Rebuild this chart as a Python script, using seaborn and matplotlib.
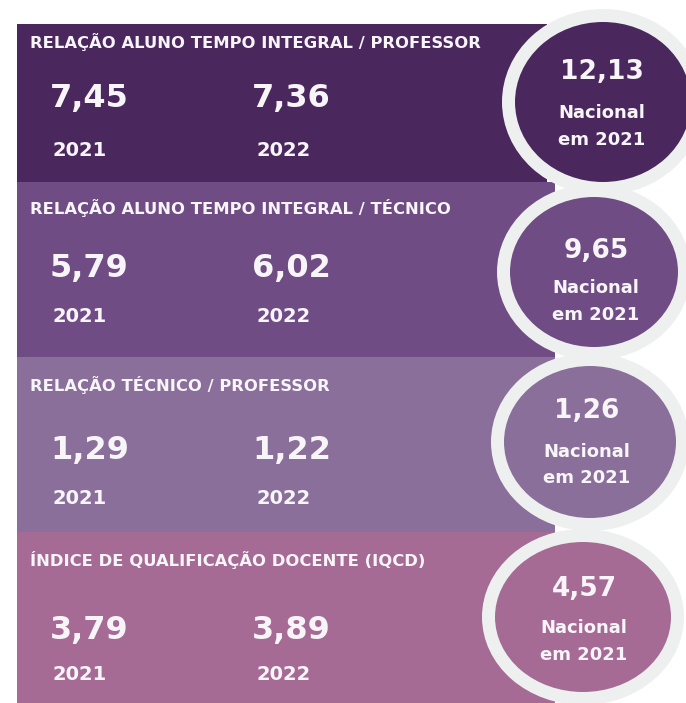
"""Infographic: relação aluno/professor/técnico e IQCD, 2021 x 2022 vs. nacional."""

import matplotlib
matplotlib.use("Agg")
import matplotlib.pyplot as plt
from matplotlib.patches import Ellipse, Rectangle
import seaborn as sns

# ── Data ──────────────────────────────────────────────────────────────────
TITLES = [
    "RELAÇÃO ALUNO TEMPO INTEGRAL / PROFESSOR",
    "RELAÇÃO ALUNO TEMPO INTEGRAL / TÉCNICO",
    "RELAÇÃO TÉCNICO / PROFESSOR",
    "ÍNDICE DE QUALIFICAÇÃO DOCENTE (IQCD)",
]
YEARS = ["2021", "2022"]
VALUES_2021 = [7.45, 5.79, 1.29, 3.79]
VALUES_2022 = [7.36, 6.02, 1.22, 3.89]
NATIONAL_2021 = [12.13, 9.65, 1.26, 4.57]
NATIONAL_LABEL = ["Nacional", "em 2021"]

BAND_COLORS = ["#4a285e", "#704c84", "#8a6f9a", "#a66b95"]
RING_COLOR = "#eef0ef"
TEXT_COLOR = "#f7f5f8"

# ── Layout (pixel coordinates, y downwards) ───────────────────────────────
W, H = 686, 703
BAND_LEFT = 17
BAND_TOPS = [24, 182, 357, 532, 703]
BAND_RIGHT = [547, 555, 555, 555]
TITLE_Y = [42, 208, 385, 560]
VALUE_Y = [99, 268, 451, 630]
YEAR_Y = [150, 316, 498, 675]
VALUE_X = [50, 252]
YEAR_X = [53, 256]

CIRCLE_C = [(603, 102), (594, 272), (590, 442), (583, 617)]
CIRCLE_R = [(88, 80), (84, 75), (86, 76), (88, 75)]
RING_W = 13
CIRCLE_TEXT_X = [602, 596, 587, 584]
CIRCLE_TEXT_Y = [(72, 113, 140), (251, 288, 315), (411, 452, 478), (589, 628, 655)]


def fmt(v: float) -> str:
    return f"{v:.2f}".replace(".", ",")


def main() -> None:
    sns.set_theme(style="white")
    plt.rcParams["font.family"] = ["DejaVu Sans"]

    fig = plt.figure(figsize=(W / 100, H / 100), dpi=100)
    ax = fig.add_axes([0, 0, 1, 1])
    ax.set_xlim(0, W)
    ax.set_ylim(H, 0)
    ax.axis("off")

    # bands
    for i, color in enumerate(BAND_COLORS):
        top, bottom = BAND_TOPS[i], BAND_TOPS[i + 1]
        ax.add_patch(Rectangle((BAND_LEFT, top), BAND_RIGHT[i] - BAND_LEFT, bottom - top,
                               facecolor=color, edgecolor="none", zorder=1))

    # band texts
    for i, title in enumerate(TITLES):
        ax.text(30, TITLE_Y[i], title, color=TEXT_COLOR, fontsize=11.8, fontweight="bold",
                ha="left", va="center", zorder=5)
        for j, vals in enumerate([VALUES_2021, VALUES_2022]):
            ax.text(VALUE_X[j], VALUE_Y[i], fmt(vals[i]), color=TEXT_COLOR, fontsize=23,
                    fontweight="bold", ha="left", va="center", zorder=5)
            ax.text(YEAR_X[j], YEAR_Y[i], YEARS[j], color=TEXT_COLOR, fontsize=14,
                    fontweight="bold", ha="left", va="center", zorder=5)

    # national circles
    for i, color in enumerate(BAND_COLORS):
        cx, cy = CIRCLE_C[i]
        rx, ry = CIRCLE_R[i]
        ax.add_patch(Ellipse((cx, cy), 2 * (rx + RING_W), 2 * (ry + RING_W),
                             facecolor=RING_COLOR, edgecolor="none", zorder=2))
        ax.add_patch(Ellipse((cx, cy), 2 * rx, 2 * ry, facecolor=color,
                             edgecolor="none", zorder=3))
        ty = CIRCLE_TEXT_Y[i]
        tx = CIRCLE_TEXT_X[i]
        ax.text(tx, ty[0], fmt(NATIONAL_2021[i]), color=TEXT_COLOR, fontsize=19,
                fontweight="bold", ha="center", va="center", zorder=5)
        for k, label in enumerate(NATIONAL_LABEL):
            ax.text(tx, ty[k + 1], label, color=TEXT_COLOR, fontsize=13,
                    fontweight="bold", ha="center", va="center", zorder=5)

    fig.savefig("out.png", dpi=100, facecolor="white")
    plt.close(fig)


if __name__ == "__main__":
    main()
